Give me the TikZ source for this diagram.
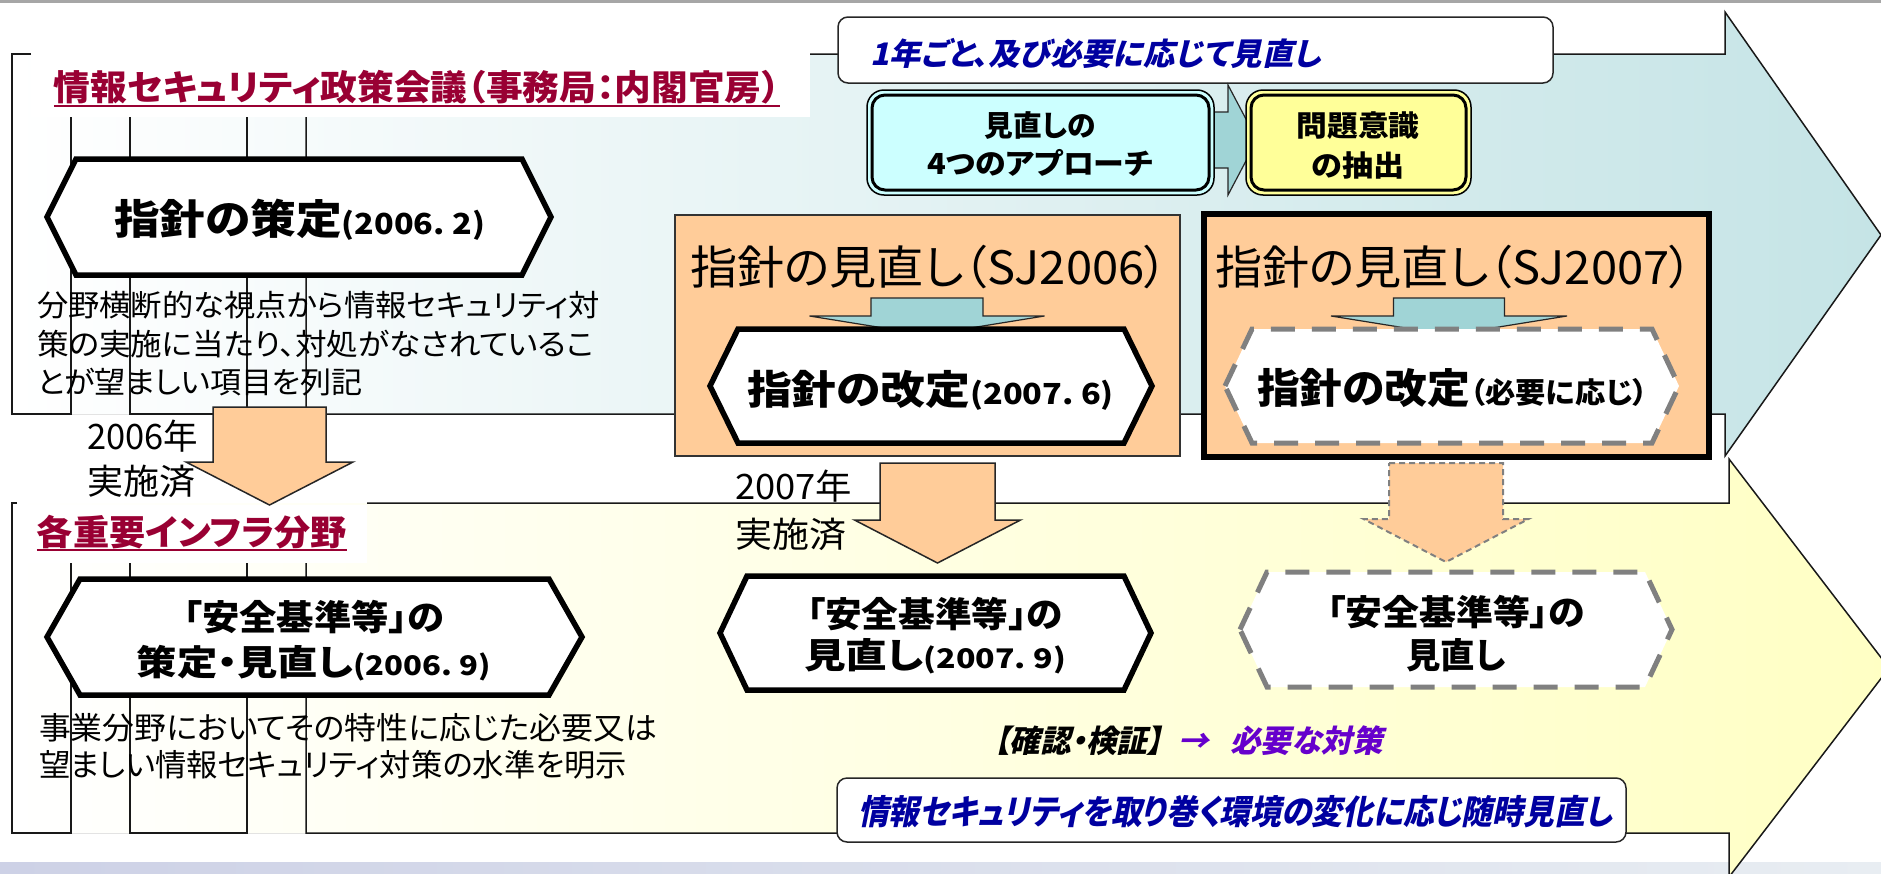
\documentclass[tikz,border=0pt]{standalone}
\usepackage{fontspec}
\usepackage{graphicx}
\setmainfont[RawFeature=+palt]{Noto Sans CJK JP}
\newfontfamily\jpsl[FakeSlant=0.22,RawFeature=+palt]{Noto Sans CJK JP}
\newcommand{\fz}[2]{\fontsize{#1pt}{#2pt}\selectfont}
\newcommand{\fw}[2]{\resizebox{#1pt}{\height}{#2}}
\definecolor{peach}{RGB}{255,204,153}
\definecolor{tealfill}{RGB}{160,212,214}
\definecolor{cyanbox}{RGB}{204,255,255}
\definecolor{yelbox}{RGB}{255,255,153}
\definecolor{titlered}{RGB}{153,0,51}
\definecolor{navy}{RGB}{0,0,160}
\definecolor{purp}{RGB}{102,0,204}
\definecolor{arrowteal}{RGB}{197,228,230}
\definecolor{arrowyel}{RGB}{255,255,196}
\definecolor{dashgray}{RGB}{128,128,128}
\definecolor{topgray}{RGB}{166,166,166}
\definecolor{bandL}{RGB}{205,209,230}
\definecolor{bandR}{RGB}{232,237,242}
\newcommand{\hexa}[6]{\path[#1] (#2,{(#4+#5)/2}) -- (#2+#6,#4) -- (#3-#6,#4) -- (#3,{(#4+#5)/2}) -- (#3-#6,#5) -- (#2+#6,#5) -- cycle;}
\newcommand{\downarr}[7]{\path[#1] (#2-#3,#4) -- (#2+#3,#4) -- (#2+#3,#5) -- (#2+#6,#5) -- (#2,#7) -- (#2-#6,#5) -- (#2-#3,#5) -- cycle;}
\tikzset{
  frameline/.style={draw=black!90, line width=1.5pt},
  hexbox/.style={draw=black, line width=5.5pt, fill=white, line join=miter},
  hexdash/.style={draw=dashgray, line width=5pt, dash pattern=on 24pt off 17pt, fill=white},
  orangearrow/.style={draw=black!85, line width=1.5pt, fill=peach, line join=miter},
  orangedash/.style={draw=dashgray, line width=2pt, dash pattern=on 6pt off 4pt, fill=peach},
  tealarrow/.style={draw=black!85, line width=1.2pt, fill=tealfill, line join=miter},
  txt/.style={inner sep=0pt, outer sep=0pt},
  thinbox/.style={draw=black!85, line width=1.5pt, fill=white, rounded corners=10pt},
  yeartxt/.style={txt, align=left, anchor=west, text=black, font={\fz{35}{#1}}},
}
\begin{document}
\begin{tikzpicture}[x=1pt,y=-1pt]
\useasboundingbox (0,0) rectangle (1881,873);
\clip (0,0) rectangle (1881,873);
% top line and bottom band
\fill[topgray] (0,0) rectangle (1881,3);
\fill[left color=bandL, right color=bandR] (0,862) rectangle (1881,873);
% upper big arrow
\fill[left color=white, right color=arrowteal] (12,54) -- (1725,54) -- (1725,12) -- (1881,235) -- (1725,456) -- (1725,414) -- (12,414) -- cycle;
\fill[white] (31,40) rectangle (810,117);
\draw[frameline] (810,54) -- (1725,54) -- (1725,12) -- (1881,235) -- (1725,456) -- (1725,414) -- (306,414) -- (306,117);
\draw[frameline] (31,54) -- (12,54) -- (12,414) -- (71,414) -- (71,117);
\draw[frameline] (130,117) -- (130,414) -- (247,414) -- (247,117);
\node[txt, text=titlered, font={\bfseries\fz{35}{35}}] (ttl1) at (417,87) {\fw{726}{情報セキュリティ政策会議（事務局：内閣官房）}};
\draw[titlered, line width=2.5pt] ([yshift=-2pt]ttl1.south west) -- ([yshift=-2pt]ttl1.south east);
% lower big arrow
\fill[left color=white, right color=arrowyel] (12,503) -- (1729,503) -- (1729,459) -- (1889,668) -- (1729,877) -- (1729,833) -- (12,833) -- cycle;
\fill[white] (17,505) rectangle (367,563);
\draw[frameline] (367,503) -- (1729,503) -- (1729,459) -- (1889,668) -- (1729,877) -- (1729,833) -- (306,833) -- (306,563);
\draw[frameline] (17,503) -- (12,503) -- (12,833) -- (71,833) -- (71,563);
\draw[frameline] (130,563) -- (130,833) -- (247,833) -- (247,563);
\node[txt, text=titlered, font={\bfseries\fz{35}{35}}] (ttl2) at (192,532) {\fw{310}{各重要インフラ分野}};
\draw[titlered, line width=2.5pt] ([yshift=-1pt]ttl2.south west) -- ([yshift=-1pt]ttl2.south east);
% review box on top
\draw[thinbox] (838,17) rectangle (1553,83);
\node[txt, anchor=west, text=navy, font={\jpsl\bfseries\fz{31}{31}}] (b1t) at (870,53) {\fw{451}{1年ごと、及び必要に応じて見直し}};
% small teal arrow
\path[tealarrow] (1212,112) -- (1228,112) -- (1228,85) -- (1257,140) -- (1228,195) -- (1228,168) -- (1212,168) -- cycle;
% cyan box
\draw[line width=1.5pt, fill=cyanbox, rounded corners=17pt] (867,90) rectangle (1214,195);
\draw[line width=3pt, rounded corners=13pt] (872,95) rectangle (1209,190);
\node[txt, align=center, font={\bfseries\fz{29}{38}}] (cyt) at (1040,144) {\fw{111}{見直しの}\\\fw{226}{4つのアプローチ}};
% yellow box
\draw[line width=1.5pt, fill=yelbox, rounded corners=17pt] (1246,90) rectangle (1471,195);
\draw[line width=3pt, rounded corners=13pt] (1251,95) rectangle (1466,190);
\node[txt, align=center, font={\bfseries\fz{29}{40}}] (yet) at (1358,145) {\fw{123}{問題意識}\\\fw{93}{の抽出}};
% SJ boxes
\draw[draw=black!80, line width=1.5pt, fill=peach] (675,215) rectangle (1180,456);
\draw[draw=black, line width=5.5pt, fill=peach] (1204,214) rectangle (1709,457);
\node[txt, font={\fz{46}{46}}] (sj6) at (929,267) {\fw{478}{指針の見直し（SJ2006）}};
\node[txt, font={\fz{46}{46}}] (sj7) at (1454,267) {\fw{478}{指針の見直し（SJ2007）}};
\downarr{tealarrow}{927}{56}{298}{316}{117.5}{335}
\downarr{tealarrow}{1449}{55.5}{298}{316}{118}{335}
% hexagons upper
\hexa{hexbox}{47}{551}{159}{275}{29}
\node[txt, font=\bfseries] (hx1t) at (299.5,220) {\fw{371}{\fz{41}{41}指針の策定\fz{29}{29}(2006.\ 2)}};
\hexa{hexbox}{710}{1152}{329}{443}{28}
\node[txt, font=\bfseries] (hx3t) at (930.5,390) {\fw{367}{\fz{40}{40}指針の改定\fz{29}{29}(2007.\ 6)}};
\hexa{hexdash}{1225}{1679}{329}{443}{27}
\node[txt, font=\bfseries] (hx4t) at (1452.5,388) {\fw{391}{\fz{41}{41}指針の改定\fz{29}{29}（必要に応じ）}};
% body text 1
\node[txt, align=left, anchor=west, font={\fz{30}{38.5}}] (body1) at (37,344) {\fw{563}{分野横断的な視点から情報セキュリティ対}\\\fw{557}{策の実施に当たり、対処がなされているこ}\\\fw{326}{とが望ましい項目を列記}};
% orange arrows
\downarr{orangearrow}{269.5}{56.5}{407}{462}{83.5}{505}
\node[yeartxt=45] (y2006) at (87,459) {\fw{111}{2006年}\\\fw{108}{実施済}};
\downarr{orangearrow}{937.5}{57.5}{463}{520}{83}{563}
\node[yeartxt=48] (y2007) at (735,510) {\fw{117}{2007年}\\\fw{111}{実施済}};
\downarr{orangedash}{1446}{57}{463}{519}{82.5}{562}
% hexagons lower
\hexa{hexbox}{47}{582}{579}{695}{33}
\node[txt, align=center, font={\bfseries\fz{35}{45}}] (hx2t) at (314,640.5) {\fw{261}{「安全基準等」の}\\\fw{354}{策定・見直し\fz{27}{27}(2006.\ 9)}};
\hexa{hexbox}{720}{1151}{576}{690}{27}
\node[txt, align=center, font={\bfseries\fz{35}{41}}] (hx5t) at (935,635.5) {\fw{256}{「安全基準等」の}\\\fw{262}{見直し\fz{27}{27}(2007.\ 9)}};
\hexa{hexdash}{1240}{1672}{572}{687}{27}
\node[txt, align=center, font={\bfseries\fz{35}{43}}] (hx6t) at (1456,633.5) {\fw{258}{「安全基準等」の}\\\fw{99}{見直し}};
% body text 2
\node[txt, align=left, anchor=west, font={\fz{31}{37}}] (body2) at (39,746.5) {\fw{618}{事業分野においてその特性に応じた必要又は}\\\fw{588}{望ましい情報セキュリティ対策の水準を明示}};
% confirmation line
\node[txt, anchor=west, font={\jpsl\bfseries\fz{31}{31}}] (kaku) at (994,741) {\fw{389}{【確認・検証】\hspace{0.5em}\textcolor{purp}{→\hspace{0.7em}必要な対策}}};
% bottom review box
\draw[thinbox] (837,778) rectangle (1626,842);
\node[txt, anchor=west, text=navy, font={\jpsl\bfseries\fz{34}{34}}] (b2t) at (858,812) {\fw{754}{情報セキュリティを取り巻く環境の変化に応じ随時見直し}};
\end{tikzpicture}
\end{document}
